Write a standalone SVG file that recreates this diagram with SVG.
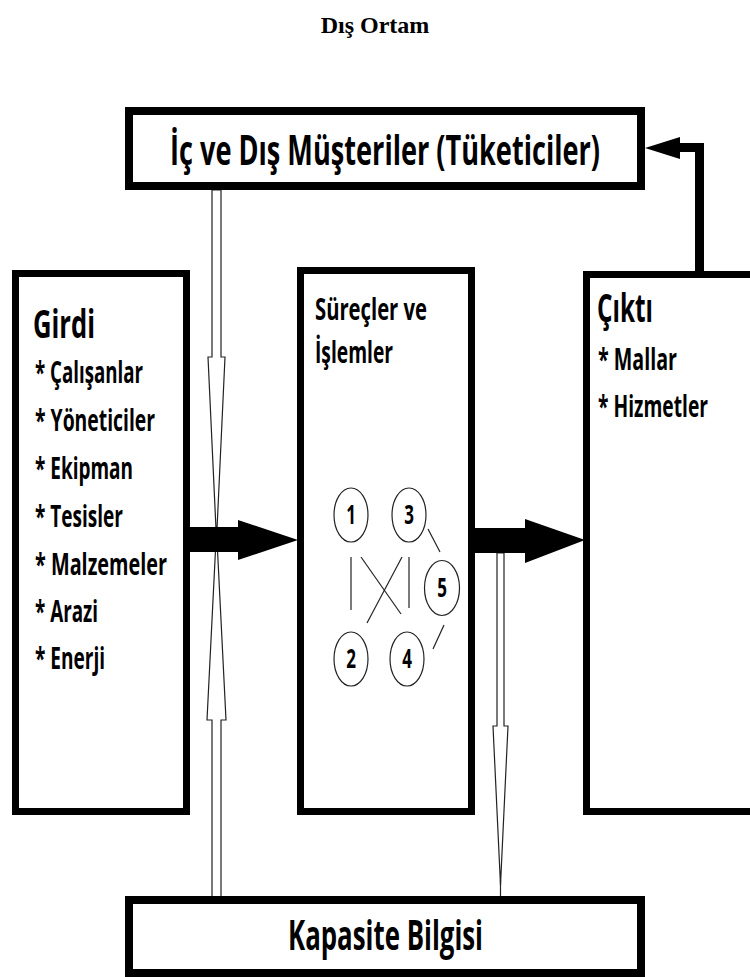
<svg xmlns="http://www.w3.org/2000/svg" width="750" height="977" viewBox="0 0 750 977">
<style>
.box{fill:#fff;stroke:#000;}
.t{font-family:"Open Sans","Noto Sans","Liberation Sans",sans-serif;font-weight:bold;fill:#000;}
.hollow{fill:#fff;stroke:#222;stroke-width:1.2;}
.thin{stroke:#222;stroke-width:1.2;fill:none;}
.ell{fill:#fff;stroke:#222;stroke-width:1.2;}
</style>
<rect width="750" height="977" fill="#fff"/>
<text x="375" y="33" text-anchor="middle" font-family="Liberation Serif,serif" font-weight="bold" font-size="24">Dış Ortam</text>

<g id="connectors">
  <polygon class="hollow" points="212,190 212,357 208,357 216.5,540 225,357 221,357 221,190"/>
  <polygon class="hollow" points="212,897 212,720 207,720 216.5,530 226,720 221,720 221,897"/>
  <line class="thin" x1="500.5" y1="880" x2="500.5" y2="897"/>
  <polygon class="hollow" points="497,553 497,726 493,726 500.5,885 508,726 504,726 504,553"/>
  <polygon fill="#000" points="188,527 238,527 238,520 298,540 238,560 238,552 188,552"/>
  <polygon fill="#000" points="473,528 525,528 525,519 585,540 525,563 525,553 473,553"/>
  <polyline points="699.5,274 699.5,147.5 676,147.5" fill="none" stroke="#000" stroke-width="9"/>
  <polygon fill="#000" points="645,148 680,137 680,159"/>
</g>

<g id="musteriler">
  <rect class="box" x="129" y="111" width="512" height="75" stroke-width="8"/>
  <text class="t" transform="translate(170,165) scale(1,1.6)" font-size="26" textLength="430" lengthAdjust="spacingAndGlyphs">İç ve Dış Müşteriler (Tüketiciler)</text>
</g>

<g id="girdi">
  <rect class="box" x="15.5" y="273.5" width="171" height="538" stroke-width="7"/>
  <text class="t" transform="translate(33,338) scale(1,1.6)" font-size="25" textLength="62" lengthAdjust="spacingAndGlyphs">Girdi</text>
  <text class="t" transform="translate(35,383) scale(1,1.6)" font-size="19.5" textLength="108" lengthAdjust="spacingAndGlyphs">* Çalışanlar</text>
  <text class="t" transform="translate(35,431) scale(1,1.6)" font-size="19.5" textLength="120" lengthAdjust="spacingAndGlyphs">* Yöneticiler</text>
  <text class="t" transform="translate(35,479) scale(1,1.6)" font-size="19.5" textLength="98" lengthAdjust="spacingAndGlyphs">* Ekipman</text>
  <text class="t" transform="translate(35,527) scale(1,1.6)" font-size="19.5" textLength="88" lengthAdjust="spacingAndGlyphs">* Tesisler</text>
  <text class="t" transform="translate(35,575) scale(1,1.6)" font-size="19.5" textLength="132" lengthAdjust="spacingAndGlyphs">* Malzemeler</text>
  <text class="t" transform="translate(35,622) scale(1,1.6)" font-size="19.5" textLength="63" lengthAdjust="spacingAndGlyphs">* Arazi</text>
  <text class="t" transform="translate(35,669) scale(1,1.6)" font-size="19.5" textLength="70" lengthAdjust="spacingAndGlyphs">* Enerji</text>
</g>

<g id="surecler">
  <rect class="box" x="300.5" y="270.5" width="171" height="541" stroke-width="7"/>
  <text class="t" transform="translate(315,320) scale(1,1.6)" font-size="19.5" textLength="112" lengthAdjust="spacingAndGlyphs">Süreçler ve</text>
  <text class="t" transform="translate(315,363) scale(1,1.6)" font-size="19.5" textLength="78" lengthAdjust="spacingAndGlyphs">İşlemler</text>
  <g id="network">
    <line class="thin" x1="351" y1="557" x2="351" y2="610"/>
    <line class="thin" x1="361" y1="557" x2="401" y2="614"/>
    <line class="thin" x1="402" y1="557" x2="367" y2="623"/>
    <line class="thin" x1="409" y1="557" x2="409" y2="608"/>
    <line class="thin" x1="428" y1="529" x2="440" y2="552"/>
    <line class="thin" x1="444" y1="625" x2="433" y2="649"/>
    <ellipse class="ell" cx="351" cy="515" rx="17" ry="27"/>
    <ellipse class="ell" cx="409" cy="515" rx="17" ry="27"/>
    <ellipse class="ell" cx="442" cy="588" rx="17.5" ry="27.5"/>
    <ellipse class="ell" cx="351" cy="659" rx="17" ry="27"/>
    <ellipse class="ell" cx="407" cy="659" rx="17" ry="27"/>
    <text class="t" transform="translate(351,524) scale(1,1.6)" font-size="17" text-anchor="middle">1</text>
    <text class="t" transform="translate(409,524) scale(1,1.6)" font-size="17" text-anchor="middle">3</text>
    <text class="t" transform="translate(442,597) scale(1,1.6)" font-size="17" text-anchor="middle">5</text>
    <text class="t" transform="translate(351,668) scale(1,1.6)" font-size="17" text-anchor="middle">2</text>
    <text class="t" transform="translate(407,668) scale(1,1.6)" font-size="17" text-anchor="middle">4</text>
  </g>
</g>

<g id="cikti">
  <rect class="box" x="586.5" y="274.5" width="200" height="537" stroke-width="7"/>
  <text class="t" transform="translate(597,322) scale(1,1.6)" font-size="25" textLength="56" lengthAdjust="spacingAndGlyphs">Çıktı</text>
  <text class="t" transform="translate(598,370) scale(1,1.6)" font-size="19.5" textLength="79" lengthAdjust="spacingAndGlyphs">* Mallar</text>
  <text class="t" transform="translate(598,417) scale(1,1.6)" font-size="19.5" textLength="110" lengthAdjust="spacingAndGlyphs">* Hizmetler</text>
</g>

<g id="kapasite">
  <rect class="box" x="129" y="900" width="512" height="73" stroke-width="8"/>
  <text class="t" transform="translate(288,950) scale(1,1.6)" font-size="26" textLength="195" lengthAdjust="spacingAndGlyphs">Kapasite Bilgisi</text>
</g>
</svg>
